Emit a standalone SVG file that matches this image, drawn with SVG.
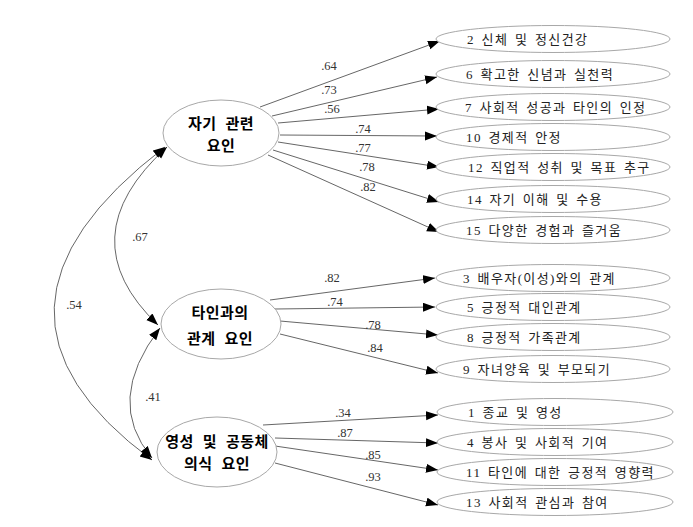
<svg xmlns="http://www.w3.org/2000/svg" width="693" height="527" viewBox="0 0 693 527">
<style>
.bg{fill:#fff}
.lat{fill:#fff;stroke:#a8a8a8;stroke-width:1}
.ind{fill:#fff;stroke:#a8a8a8;stroke-width:1}
.lt{font-family:"Noto Sans CJK KR","Liberation Sans",sans-serif;font-weight:bold;font-size:15px;fill:#000;text-anchor:middle;letter-spacing:0.5px;word-spacing:5px}
.it{font-family:"Liberation Serif","Noto Sans CJK KR",serif;font-size:13px;fill:#222;letter-spacing:1.4px;word-spacing:2px}
.cf{font-family:"Liberation Serif",serif;font-size:12.5px;fill:#333;text-anchor:middle}
.ln{fill:none;stroke:#555;stroke-width:0.9;marker-end:url(#ah)}
.cv{fill:none;stroke:#555;stroke-width:0.9;marker-start:url(#ah2);marker-end:url(#ah2)}
</style>
<defs>
<marker id="ah" markerUnits="userSpaceOnUse" markerWidth="13" markerHeight="10" refX="12" refY="4.5" orient="auto"><path d="M0,0 L12,4.5 L0,9 z" fill="#000"/></marker>
<marker id="ah2" markerUnits="userSpaceOnUse" markerWidth="13" markerHeight="10" refX="12" refY="4.5" orient="auto-start-reverse"><path d="M0,0 L12,4.5 L0,9 z" fill="#000"/></marker>
</defs>
<rect class="bg" x="0" y="0" width="693" height="527"/>
<g id="connectors">
<path class="ln" d="M260,107 L440,41"/>
<path class="ln" d="M272,116 L437,77"/>
<path class="ln" d="M278,123 L439,109"/>
<path class="ln" d="M280,135 L437,136"/>
<path class="ln" d="M278,142 L439,167"/>
<path class="ln" d="M273,150 L439,202"/>
<path class="ln" d="M268,155 L439,232"/>
<path class="ln" d="M270,300 L435,278"/>
<path class="ln" d="M275,309 L435,307"/>
<path class="ln" d="M280,321 L438,335"/>
<path class="ln" d="M280,334 L438,373"/>
<path class="ln" d="M263,425 L438,415"/>
<path class="ln" d="M275,438 L438,443"/>
<path class="ln" d="M275,446 L438,470"/>
<path class="ln" d="M275,463 L438,505"/>
<path class="cv" d="M167,147 Q67,238 158,325"/>
<path class="cv" d="M165,147 Q-50,311 152,460"/>
<path class="cv" d="M160,328 Q104,401 152,458"/>
<text class="cf" x="329" y="70">.64</text>
<text class="cf" x="329" y="94">.73</text>
<text class="cf" x="332" y="113">.56</text>
<text class="cf" x="363" y="133">.74</text>
<text class="cf" x="363" y="152">.77</text>
<text class="cf" x="367" y="171">.78</text>
<text class="cf" x="368" y="191">.82</text>
<text class="cf" x="332" y="282">.82</text>
<text class="cf" x="335" y="306">.74</text>
<text class="cf" x="373" y="329">.78</text>
<text class="cf" x="375" y="352">.84</text>
<text class="cf" x="343" y="417">.34</text>
<text class="cf" x="345" y="437">.87</text>
<text class="cf" x="373" y="459">.85</text>
<text class="cf" x="373" y="481">.93</text>
<text class="cf" x="140" y="241">.67</text>
<text class="cf" x="74" y="309">.54</text>
<text class="cf" x="153" y="401">.41</text>
</g>
<g id="f1"><ellipse class="lat" cx="221" cy="133" rx="58" ry="33"/><text class="lt" x="221" y="129">자기 관련</text><text class="lt" x="221" y="151">요인</text></g>
<g id="f2"><ellipse class="lat" cx="221" cy="324" rx="60" ry="35"/><text class="lt" x="220" y="318">타인과의</text><text class="lt" x="220" y="344">관계 요인</text></g>
<g id="f3"><ellipse class="lat" cx="217" cy="452" rx="60" ry="35"/><text class="lt" x="217" y="447">영성 및 공동체</text><text class="lt" x="217" y="469">의식 요인</text></g>
<g id="i2"><ellipse class="ind" cx="553" cy="39" rx="117" ry="13.5"/><text class="it" x="467" y="44">2 신체 및 정신건강</text></g>
<g id="i6"><ellipse class="ind" cx="553" cy="74" rx="117" ry="13.5"/><text class="it" x="466" y="79">6 확고한 신념과 실천력</text></g>
<g id="i7"><ellipse class="ind" cx="553" cy="107" rx="117" ry="13.5"/><text class="it" x="465" y="112">7 사회적 성공과 타인의 인정</text></g>
<g id="i10"><ellipse class="ind" cx="553" cy="137" rx="117" ry="13.5"/><text class="it" x="466" y="142">10 경제적 안정</text></g>
<g id="i12"><ellipse class="ind" cx="553" cy="167" rx="117" ry="13.5"/><text class="it" x="468" y="172">12 직업적 성취 및 목표 추구</text></g>
<g id="i14"><ellipse class="ind" cx="553" cy="199" rx="117" ry="13.5"/><text class="it" x="467" y="204">14 자기 이해 및 수용</text></g>
<g id="i15"><ellipse class="ind" cx="553" cy="230" rx="117" ry="13.5"/><text class="it" x="466" y="235">15 다양한 경험과 즐거움</text></g>
<g id="i3"><ellipse class="ind" cx="553" cy="278" rx="117" ry="13.5"/><text class="it" x="463" y="283">3 배우자(이성)와의 관계</text></g>
<g id="i5"><ellipse class="ind" cx="553" cy="307" rx="117" ry="13.5"/><text class="it" x="467" y="312">5 긍정적 대인관계</text></g>
<g id="i8"><ellipse class="ind" cx="553" cy="337" rx="117" ry="13.5"/><text class="it" x="467" y="342">8 긍정적 가족관계</text></g>
<g id="i9"><ellipse class="ind" cx="553" cy="369" rx="117" ry="13.5"/><text class="it" x="463" y="374">9 자녀양육 및 부모되기</text></g>
<g id="i1"><ellipse class="ind" cx="555" cy="412" rx="118" ry="13.5"/><text class="it" x="468" y="417">1 종교 및 영성</text></g>
<g id="i4"><ellipse class="ind" cx="555" cy="442" rx="118" ry="13.5"/><text class="it" x="467" y="447">4 봉사 및 사회적 기여</text></g>
<g id="i11"><ellipse class="ind" cx="555" cy="472" rx="118" ry="13.5"/><text class="it" x="466" y="477">11 타인에 대한 긍정적 영향력</text></g>
<g id="i13"><ellipse class="ind" cx="555" cy="502" rx="118" ry="13.5"/><text class="it" x="466" y="507">13 사회적 관심과 참여</text></g>
</svg>
